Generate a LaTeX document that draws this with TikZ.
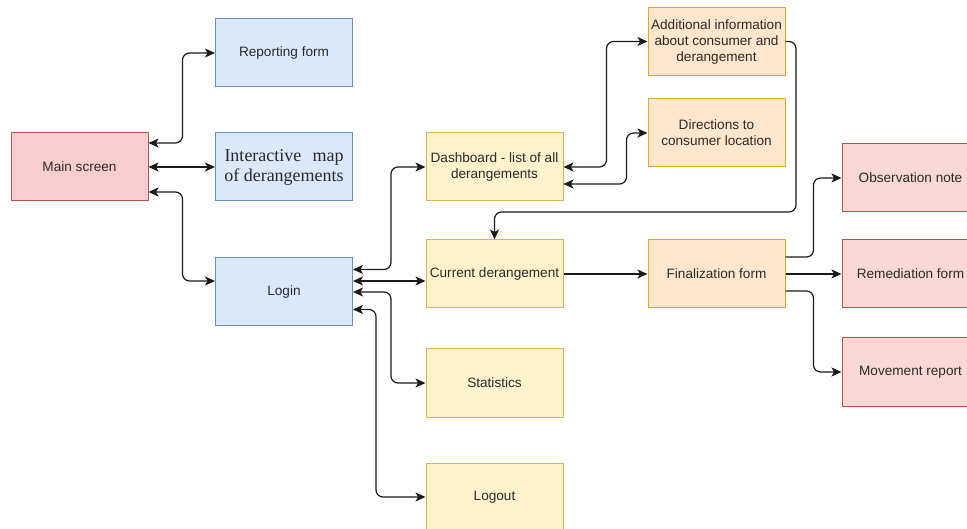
\documentclass[tikz,border=0pt]{standalone}
\usepackage{fontspec}
\setmainfont{Liberation Sans}
\newfontfamily\mapserif{Liberation Serif}
\usetikzlibrary{arrows.meta}
\definecolor{bluefill}{HTML}{DAE8FC}
\definecolor{bluedraw}{HTML}{6C8EBF}
\definecolor{redfill}{HTML}{F8CECC}
\definecolor{reddraw}{HTML}{B85450}
\definecolor{pinkfill}{HTML}{FAD9D5}
\definecolor{pinkdraw}{HTML}{C0504A}
\definecolor{yelfill}{HTML}{FFF2CC}
\definecolor{yeldraw}{HTML}{D6B656}
\definecolor{orfill}{HTML}{FFE6CC}
\definecolor{ordraw}{HTML}{E0A82A}
\definecolor{txt}{HTML}{2A2A2A}
\definecolor{ln}{HTML}{1A1A1A}
\tikzset{
  box/.style={rectangle, minimum width=137pt, minimum height=68pt, inner sep=2pt,
    line width=1pt, align=center, text=txt,
    font=\fontsize{13.6pt}{16pt}\selectfont},
  bluebox/.style={box, fill=bluefill, draw=bluedraw},
  redbox/.style={box, fill=redfill, draw=reddraw},
  pinkbox/.style={box, fill=pinkfill, draw=pinkdraw},
  yelbox/.style={box, fill=yelfill, draw=yeldraw},
  orbox/.style={box, fill=orfill, draw=ordraw},
  conn/.style={draw=ln, line width=1.2pt, rounded corners=7pt},
  tip/.style={-{Stealth[length=10pt,width=9pt,inset=2.5pt]}},
  tips/.style={{Stealth[length=10pt,width=9pt,inset=2.5pt]}-{Stealth[length=10pt,width=9pt,inset=2.5pt]}}
}
\begin{document}
\begin{tikzpicture}[x=1pt,y=-1pt]
\clip (0,0) rectangle (967,529);
\fill[white] (0,0) rectangle (967,529);
% nodes
\node[redbox] (main) at (79.5,167) {Main screen};
\node[bluebox] (report) at (284,53) {Reporting form};
\node[bluebox, font=\mapserif\fontsize{18pt}{20pt}\selectfont] (map) at (284,167)
  {\makebox[119pt][s]{Interactive map}\\of derangements};
\node[bluebox] (login) at (284,292) {Login};
\node[yelbox] (dash) at (494.5,167) {Dashboard - list of all\\derangements};
\node[yelbox] (cur) at (494.5,274) {Current derangement};
\node[yelbox] (stat) at (494.5,383) {Statistics};
\node[yelbox] (logout) at (494.5,497) {Logout};
\node[orbox] (addl) at (716.5,41.5) {Additional information\\about consumer and\\derangement};
\node[orbox] (dir) at (716.5,133) {Directions to\\consumer location};
\node[orbox] (fin) at (716.5,274) {Finalization form};
\node[pinkbox] (obs) at (910.5,178) {Observation note};
\node[pinkbox] (rem) at (910.5,274) {Remediation form};
\node[pinkbox] (mov) at (910.5,372) {Movement report};
\coordinate (bend) at (796,212);
% connectors
\draw[conn,tips] ([yshift=24pt]main.east) -- ++(34,0) |- (report.west);
\draw[conn,tips] (main.east) -- (map.west);
\draw[conn,tips] ([yshift=-25pt]main.east) -- ++(34,0) |- ([yshift=11pt]login.west);
\draw[conn,tips] ([yshift=22.5pt]login.east) -- ++(38,0) |- (dash.west);
\draw[conn,tips] ([yshift=11pt]login.east) -- ([yshift=-7pt]cur.west);
\draw[conn,tips] (login.east) -- ++(38,0) |- (stat.west);
\draw[conn,tips] ([yshift=-17.5pt]login.east) -- ++(23,0) |- (logout.west);
\draw[conn,tips] (dash.east) -- ++(43,0) |- (addl.west);
\draw[conn,tips] ([yshift=-17pt]dash.east) -- ++(63,0) |- (dir.west);
\draw[conn,tip] (addl.east) -| (bend) -| (cur.north);
\draw[conn,tip] (cur.east) -- (fin.west);
\draw[conn,tip] ([yshift=17pt]fin.east) -- ++(28,0) |- (obs.west);
\draw[conn,tip] (fin.east) -- (rem.west);
\draw[conn,tip] ([yshift=-17pt]fin.east) -- ++(28,0) |- (mov.west);
\end{tikzpicture}
\end{document}
